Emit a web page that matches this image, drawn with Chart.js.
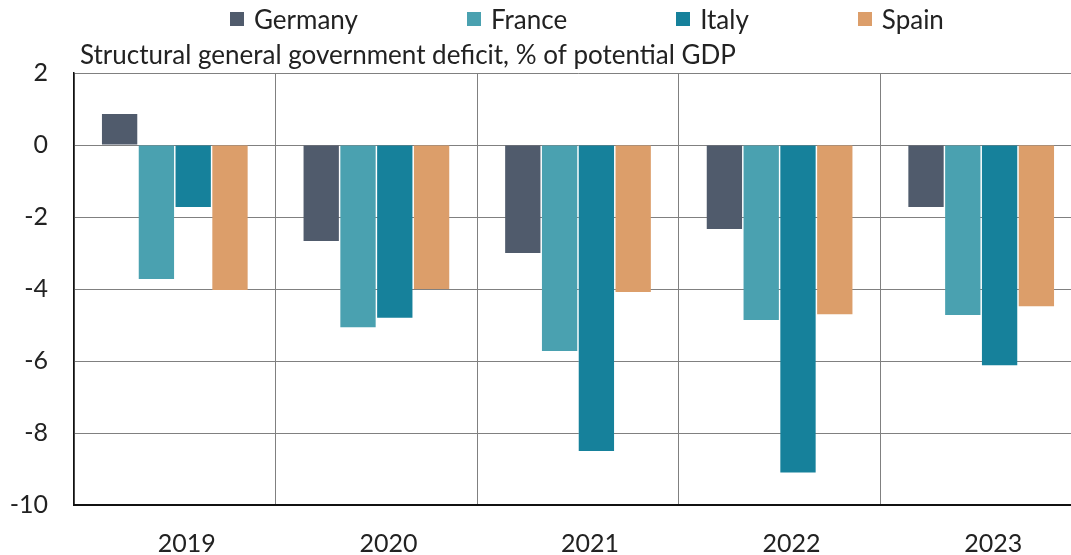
<!DOCTYPE html>
<html>
<head>
<meta charset="utf-8">
<script src="https://cdn.jsdelivr.net/npm/chart.js@4"></script>
<style>
  html, body { margin: 0; padding: 0; background: #fff; overflow: hidden; width: 1071px; height: 555px; }
  #wrap { position: absolute; left: 0; top: 0; width: 1090px; height: 555px; }
  #legend { position: absolute; left: 230px; top: 3px; display: flex; font-family: Lato, sans-serif; font-size: 26px; color: #222; white-space: nowrap; }
  .item { display: flex; align-items: center; margin-right: 109px; }
  .box { width: 14px; height: 14px; margin-right: 10px; }
</style>
</head>
<body>
<div id="wrap"><canvas id="c" width="1090" height="555"></canvas></div>
<div id="legend"></div>
<script>
const categories = ["2019", "2020", "2021", "2022", "2023"];
const seriesNames = ["Germany", "France", "Italy", "Spain"];
const germany = [0.86, -2.67, -3.0, -2.33, -1.72];
const france  = [-3.72, -5.06, -5.72, -4.86, -4.72];
const italy   = [-1.72, -4.8, -8.5, -9.1, -6.12];
const spain   = [-4.03, -4.0, -4.08, -4.7, -4.48];
const colors  = ["#505b6c", "#4aa1b0", "#16819b", "#dc9e6a"];
const yTicks  = [2, 0, -2, -4, -6, -8, -10];
const titleText = "Structural general government deficit, % of potential GDP";

const values = [germany, france, italy, spain];

// HTML legend
const leg = document.getElementById('legend');
seriesNames.forEach((n, i) => {
  const it = document.createElement('div'); it.className = 'item';
  const b = document.createElement('span'); b.className = 'box'; b.style.background = colors[i];
  const t = document.createElement('span'); t.textContent = n;
  it.appendChild(b); it.appendChild(t); leg.appendChild(it);
});

const titlePlugin = {
  id: 'innerTitle',
  afterDraw(chart) {
    const ctx = chart.ctx, a = chart.chartArea;
    ctx.save();
    ctx.font = '26px Lato, sans-serif';
    ctx.fillStyle = '#222';
    ctx.textAlign = 'left';
    ctx.textBaseline = 'alphabetic';
    ctx.fillText(titleText, a.left + 6, a.top - 9);
    ctx.restore();
  }
};

new Chart(document.getElementById('c'), {
  type: 'bar',
  data: {
    labels: categories,
    datasets: seriesNames.map((n, i) => ({
      label: n,
      data: values[i],
      backgroundColor: colors[i],
      borderWidth: 0,
      categoryPercentage: 0.73,
      barPercentage: 0.96
    }))
  },
  options: {
    responsive: false,
    animation: false,
    layout: { padding: { top: 73, left: 0, right: 8, bottom: 0 } },
    plugins: { legend: { display: false }, title: { display: false }, tooltip: { enabled: false } },
    scales: {
      x: {
        grid: { offset: true, color: '#808080', lineWidth: 1, drawTicks: false },
        border: { color: '#111', width: 2 },
        ticks: { font: { family: 'Lato', size: 25 }, color: '#222', padding: 24, labelOffset: 12 },
        afterFit(s) { s.height = 50; }
      },
      y: {
        min: -10, max: 2,
        afterBuildTicks(s) { s.ticks = yTicks.map(v => ({ value: v })); },
        grid: { color: '#808080', lineWidth: 1, drawTicks: false },
        border: { color: '#111', width: 1.5 },
        ticks: { font: { family: 'Lato', size: 25 }, color: '#222', padding: 26 },
        afterFit(s) { s.width = 74; }
      }
    }
  },
  plugins: [titlePlugin]
});
</script>
</body>
</html>
